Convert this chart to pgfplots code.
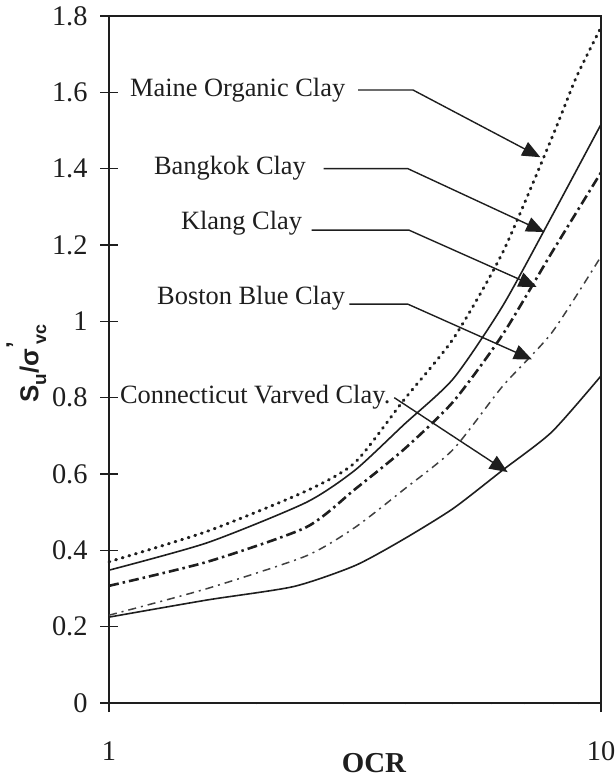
\documentclass[border=0pt]{standalone}
\usepackage{pgfplots}
\pgfplotsset{compat=1.18}
\usepackage{fontspec}
\setmainfont{Liberation Serif}
\newfontfamily\labelsans{Liberation Sans}
\usetikzlibrary{arrows.meta}
\definecolor{ink}{RGB}{30,30,30}
\begin{document}
\begin{tikzpicture}[
  leader/.style={draw=ink, line width=1.4bp, -{Triangle[length=18bp,width=15bp]}},
  lab/.style={font=\fontsize{26.5}{30}\selectfont, text=ink, inner sep=0pt}
]
\begin{axis}[
  scale only axis,
  width=492bp, height=687bp,
  xmode=log, xmin=1, xmax=10, ymin=0, ymax=1.8,
  xtick={1,10}, xticklabels={1,10},
  ytick={0,0.2,0.4,0.6,0.8,1,1.2,1.4,1.6,1.8},
  minor xtick={},
  tick pos=left,
  tick align=center,
  major tick length=18bp,
  tick style={draw=ink, line width=1.3bp},
  axis line style={draw=ink, line width=2.2bp},
  /pgf/number format/assume math mode=true,
  /pgf/number format/fixed,
  ticklabel style={font=\fontsize{28.5}{32}\selectfont, text=ink},
  yticklabel style={xshift=-9bp},
  xticklabel style={yshift=-26bp},
  xlabel={\textbf{OCR}},
  xlabel style={font=\fontsize{29}{32}\selectfont, text=ink, at={(axis description cs:0.5,0)}, anchor=center, yshift=-60bp, xshift=19bp},
  ylabel={\labelsans\bfseries S\raisebox{-0.3em}{\fontsize{19}{19}\selectfont u}/σ\rlap{\raisebox{0.6em}{\fontsize{24}{24}\selectfont ’}}\,\raisebox{-0.3em}{\fontsize{18}{18}\selectfont vc}},
  ylabel style={font=\fontsize{26}{30}\selectfont, text=ink, at={(axis description cs:-0.168,0.494)}, anchor=center},
  clip=false,
]
\coordinate (O) at (rel axis cs:0,0);
% Maine Organic Clay (dotted)
\addplot[ink, line width=3bp, line cap=round, dash pattern=on 0.9bp off 6bp, smooth, tension=0.4] coordinates {
 (1,0.37) (1.585,0.45) (2.512,0.555) (3.162,0.63) (3.981,0.795) (5.012,0.955) (6.31,1.18) (7.943,1.48) (8.913,1.64) (10,1.77)};
% Bangkok Clay (solid)
\addplot[ink, line width=1.6bp, smooth, tension=0.4] coordinates {
 (1,0.348) (1.585,0.42) (2.512,0.525) (3.162,0.61) (3.981,0.73) (5.012,0.85) (6.31,1.04) (7.943,1.275) (10,1.516)};
% Klang Clay (heavy dash-dot)
\addplot[ink, line width=2.6bp, dash pattern=on 10bp off 4bp on 2.5bp off 4bp, smooth, tension=0.4] coordinates {
 (1,0.307) (1.585,0.37) (2.512,0.46) (3.162,0.56) (3.981,0.665) (5.012,0.79) (6.31,0.965) (7.943,1.18) (10,1.39)};
% Boston Blue Clay (thin dash-dot)
\addplot[ink!85, line width=1.5bp, dash pattern=on 8bp off 5bp on 2bp off 5bp, smooth, tension=0.4] coordinates {
 (1,0.23) (1.585,0.30) (2.512,0.385) (3.162,0.46) (3.981,0.56) (5.012,0.665) (6.31,0.83) (7.943,0.97) (10,1.17)};
% Connecticut Varved Clay (solid)
\addplot[ink, line width=1.6bp, smooth, tension=0.4] coordinates {
 (1,0.225) (1.585,0.27) (2.371,0.305) (3.162,0.36) (3.981,0.43) (5.012,0.51) (6.31,0.61) (7.943,0.71) (10,0.857)};
% labels and leaders
\node[lab, anchor=west] at (axis cs:1.103,1.606) {Maine Organic Clay};
\draw[leader] (axis cs:3.21,1.606) -- (axis cs:4.15,1.606) -- (axis cs:7.53,1.43);
\node[lab, anchor=west] at (axis cs:1.234,1.402) {Bangkok Clay};
\draw[leader] (axis cs:2.73,1.40) -- (axis cs:4.05,1.40) -- (axis cs:7.67,1.234);
\node[lab, anchor=west] at (axis cs:1.40,1.256) {Klang Clay};
\draw[leader] (axis cs:2.58,1.239) -- (axis cs:4.07,1.239) -- (axis cs:7.40,1.09);
\node[lab, anchor=west] at (axis cs:1.252,1.06) {Boston Blue Clay};
\draw[leader] (axis cs:3.08,1.045) -- (axis cs:4.05,1.045) -- (axis cs:7.24,0.90);
\node[lab, anchor=west] at (axis cs:1.052,0.80) {Connecticut Varved Clay.};
\draw[leader] (axis cs:3.80,0.80) -- (axis cs:6.46,0.605);
\end{axis}
\pgfresetboundingbox
\path[use as bounding box] ([xshift=-109bp,yshift=-76bp]O) rectangle ([xshift=507bp,yshift=703bp]O);
\end{tikzpicture}
\end{document}
